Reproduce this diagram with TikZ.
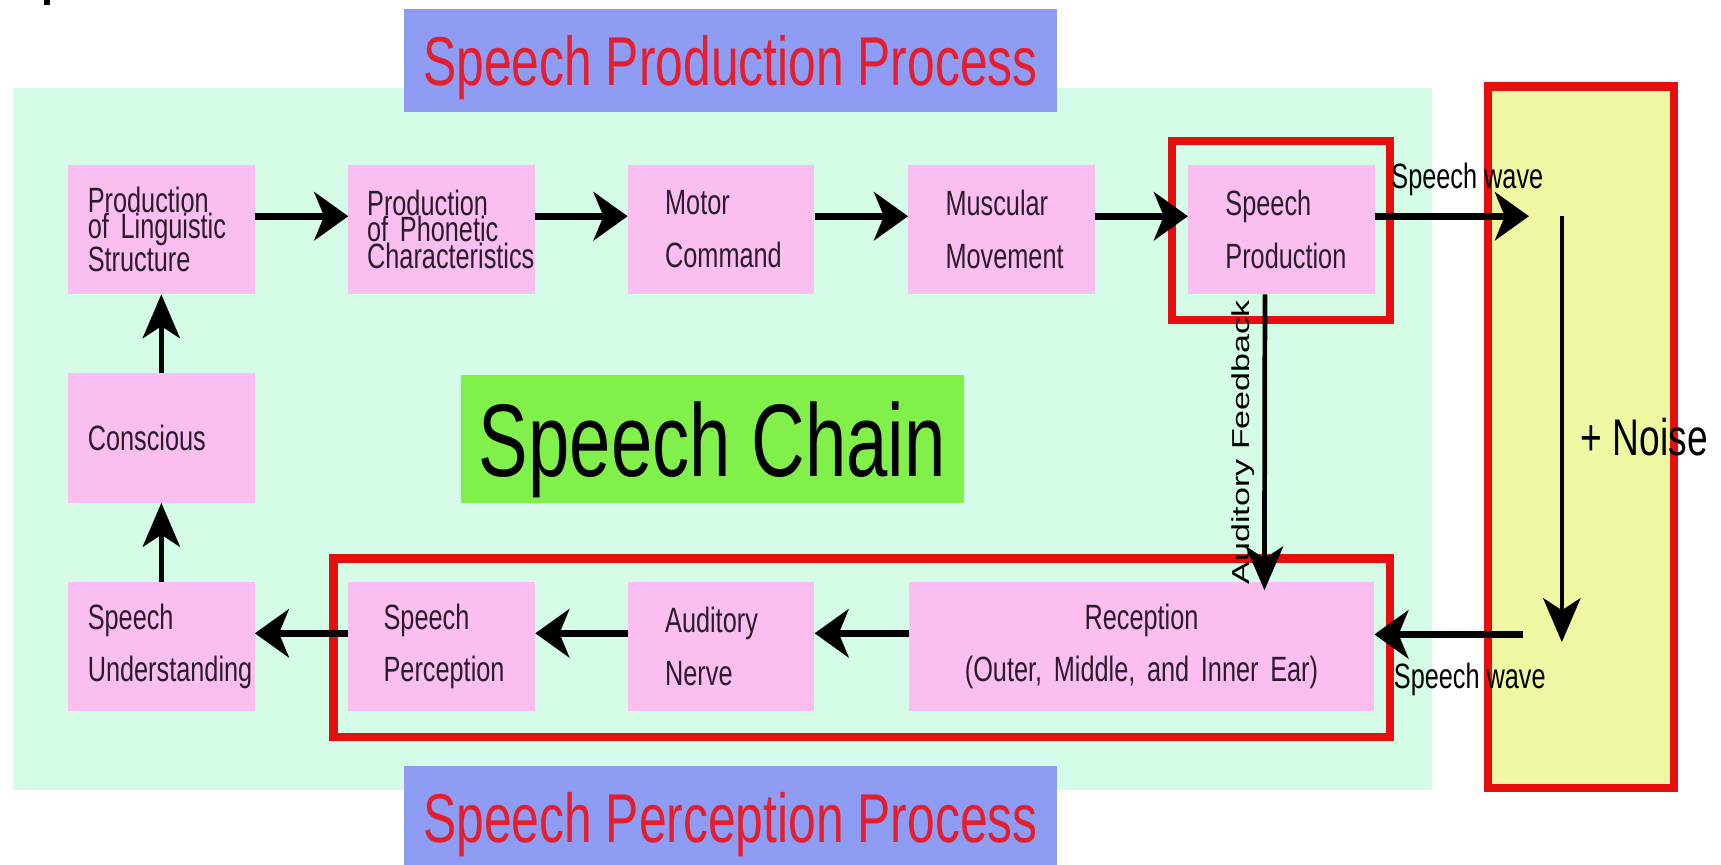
\documentclass[tikz,border=0pt]{standalone}
\usepackage{fontspec}
\usepackage{graphicx}
\usepackage{xcolor}
\usetikzlibrary{arrows.meta}
\newfontfamily\boxfont{Liberation Sans}[FakeStretch=0.72]
\newfontfamily\plainfont{Liberation Sans}
\definecolor{chainbg}{HTML}{D4FCE6}
\definecolor{stagepink}{HTML}{FABEF0}
\definecolor{titleblue}{HTML}{8E9CF4}
\definecolor{titlered}{HTML}{E41E2C}
\definecolor{chaingreen}{HTML}{82F04A}
\definecolor{noiseyellow}{HTML}{F0F7A2}
\definecolor{framered}{HTML}{E60E0E}
\definecolor{inkdark}{HTML}{2B1A2E}
\hyphenpenalty=10000
\exhyphenpenalty=10000
\lineskiplimit=-40pt

\begin{document}
\begin{tikzpicture}[x=1pt, y=-1pt,
		stage/.style={rectangle, fill=stagepink, text=inkdark, minimum width=170pt, minimum height=118pt, inner ysep=0pt, inner xsep=18pt, text width=134pt, align=left, font=\boxfont\fontsize{32}{48}\selectfont},
		deep/.style={inner xsep=34pt, text width=102pt},
		tight/.style={font=\boxfont\fontsize{32}{24}\selectfont},
		titlebox/.style={rectangle, fill=titleblue, text=titlered, minimum width=595pt, minimum height=94pt, text depth=0pt, font=\boxfont\fontsize{63}{70}\selectfont},
		hflow/.style={-{Stealth[length=31pt, width=44pt, inset=9pt]}, line width=6pt},
		vflow/.style={-{Stealth[length=40pt, width=34pt, inset=11pt]}, line width=4.3pt},
		redframe/.style={draw=framered, line width=7.5pt},
		wave/.style={font=\boxfont\fontsize{32}{36}\selectfont, inner sep=0pt}]
		\useasboundingbox (0,0) rectangle (1568,788);
		
		\fill[chainbg] (12,80) rectangle (1305,720);
		\fill (40,0) rectangle (46,5);
		\fill[noiseyellow] (1352,75) rectangle (1529,722);
		\draw[redframe] (1355.75,78.75) rectangle (1525.25,718.25);
		
		\node[titlebox] (prodtitle) at (665.5,55) {Speech Production Process};
		\node[titlebox] (perctitle) at (665.5,745) {Speech Perception Process};
		\node[rectangle, fill=chaingreen, minimum width=458pt, minimum height=116pt, text depth=0pt, font=\boxfont\fontsize{94}{100}\selectfont] (chain) at (649,400) {Speech Chain};
		
		% production side
		\node[stage, tight] (ling) at (147,209) {Production\\of Linguistic\\Structure};
		\node[stage, tight, inner xsep=17pt, text width=136pt] (phon) at (402.5,209) {Production\\of Phonetic\\Characteristics};
		\node[stage, deep] (motor) at (657,209) {Motor\\Command};
		\node[stage, deep] (musc) at (912.5,209) {Muscular\\Movement};
		\node[stage, deep] (prod) at (1167.5,209) {Speech\\Production};
		
		% perception side
		\node[stage] (cons) at (147,399) {Conscious};
		\node[stage] (under) at (147,589) {Speech\\Understanding};
		\node[stage, inner xsep=32pt, text width=106pt] (perc) at (402.5,589) {Speech\\Perception};
		\node[stage, deep] (nerve) at (657,589) {Auditory\\Nerve};
		\node[stage, align=center, inner xsep=12pt, text width=400pt] (rec) at (1040,589) {Reception\\(Outer, Middle, and Inner Ear)};
		
		\draw[redframe] (1067.75,128.75) rectangle (1266.25,291.25);
		\draw[redframe] (303.75,508.75) rectangle (1266.25,671.25);
		
		\coordinate (wavetop) at (1393,197);
		\coordinate (noisetop) at (1423,197);
		\coordinate (noisebot) at (1423,585);
		\coordinate (wavebot) at (1388,578);
		
		\foreach \a/\b in {ling/phon, phon/motor, motor/musc, musc/prod}
			\draw[hflow] ([yshift=12pt]\a.east) -- ([yshift=12pt]\b.west);
		\foreach \a/\b in {rec/nerve, nerve/perc, perc/under}
			\draw[hflow] ([yshift=12pt]\a.west) -- ([yshift=12pt]\b.east);
		\draw[vflow] (under) -- (cons);
		\draw[vflow] (cons) -- (ling);
		
		\draw[hflow] ([yshift=12pt]prod.east) -- (wavetop) node[wave, pos=0.6, above=16pt] (wavea) {Speech wave};
		\draw[vflow] (noisetop) -- (noisebot);
		\draw[hflow] (wavebot) -- ([yshift=11pt]rec.east) node[wave, pos=0.36, below=23pt] (waveb) {Speech wave};
		\draw[vflow] ([xshift=-15pt]prod.south) -- ([xshift=112pt,yshift=-8pt]rec.north) node[midway, rotate=90, anchor=south, inner sep=7pt, font=\plainfont\fontsize{31}{34}\selectfont] (fbk) {\scalebox{1}[0.72]{Auditory Feedback}};
		
		\node[anchor=west, inner sep=0pt, font=\boxfont\fontsize{47}{50}\selectfont] (noise) at (1440,398) {+ Noise};
	\end{tikzpicture}
\end{document}
